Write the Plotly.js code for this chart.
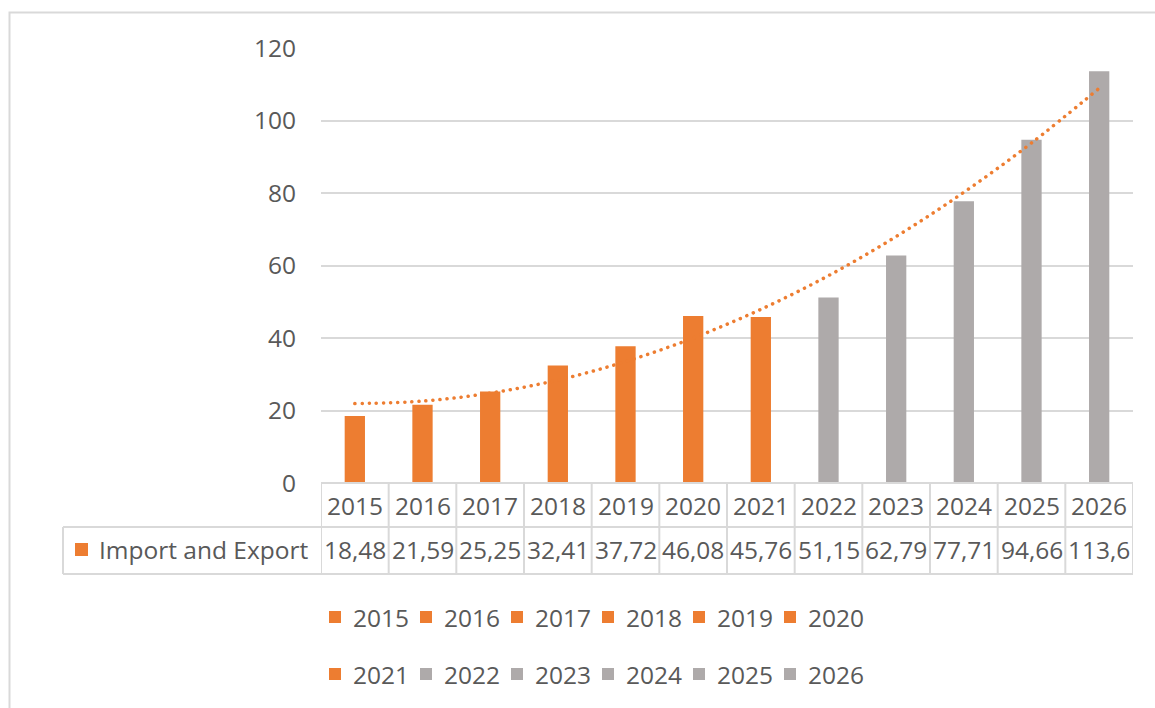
<!DOCTYPE html>
<html>
<head>
<meta charset="utf-8">
<script src="https://cdn.plot.ly/plotly-3.0.1.min.js"></script>
<style>
  html, body { margin: 0; padding: 0; background: #ffffff; }
  #chart { width: 1155px; height: 708px; }
  #chart .scatterlayer .js-line { stroke-linecap: round !important; }
</style>
</head>
<body>
<div id="chart"></div>
<script>
// ---- data ----
const years = ['2015','2016','2017','2018','2019','2020','2021','2022','2023','2024','2025','2026'];
const importExport = [18.48, 21.59, 25.25, 32.41, 37.72, 46.08, 45.76, 51.15, 62.79, 77.71, 94.66, 113.6];
const trendValues = [21.9, 22.6, 24.8, 28.4, 33.5, 40.0, 47.9, 57.2, 68.0, 80.2, 93.8, 108.9];
const seriesName = 'Import and Export';
const yTicks = [0, 20, 40, 60, 80, 100, 120];
const lastActualIndex = 6; // 2015-2021 orange, later gray

// ---- styling ----
const ORANGE = '#ED7D31';
const GRAY = '#AEAAAA';
const GRID = '#D9D9D9';
const TEXT = '#595959';
const FONT = '"Open Sans", "Noto Sans", sans-serif';
const FS = 24.5;

const W = 1155, H = 708;
const M = {l: 321, r: 22, t: 48, b: 225};
const PW = W - M.l - M.r, PH = H - M.t - M.b;
const PX = px => (px - M.l) / PW;          // pixel x -> paper x
const PY = py => (H - M.b - py) / PH;      // pixel y -> paper y
const colorOf = i => (i <= lastActualIndex ? ORANGE : GRAY);

const traces = [];
years.forEach((yr, i) => {
  traces.push({
    type: 'bar',
    x: [yr],
    y: [importExport[i]],
    name: yr,
    width: 0.3,
    marker: {color: colorOf(i), line: {width: 0}},
    showlegend: false,
    hoverinfo: 'x+y'
  });
});
traces.push({
  type: 'scatter',
  mode: 'lines',
  x: years,
  y: trendValues,
  line: {color: ORANGE, width: 3.5, dash: '0.1px,7px', shape: 'spline'},
  showlegend: false,
  hoverinfo: 'skip'
});

const shapes = [];
const annotations = [];
const rowTop = H - M.b;   // 483
const row1Bottom = 527;
const row2Bottom = 574;
const labelLeft = 63;

// outer chart frame
shapes.push({type: 'rect', xref: 'paper', yref: 'paper',
  x0: PX(9.5), x1: PX(1165), y0: PY(720), y1: PY(12.5),
  line: {color: GRID, width: 2}, fillcolor: 'rgba(0,0,0,0)', layer: 'below'});

// table horizontal lines
shapes.push({type: 'line', xref: 'paper', yref: 'paper', x0: 0, x1: 1, y0: PY(rowTop), y1: PY(rowTop), line: {color: GRID, width: 2}});
shapes.push({type: 'line', xref: 'paper', yref: 'paper', x0: PX(labelLeft), x1: 1, y0: PY(row1Bottom), y1: PY(row1Bottom), line: {color: GRID, width: 2}});
shapes.push({type: 'line', xref: 'paper', yref: 'paper', x0: PX(labelLeft), x1: 1, y0: PY(row2Bottom), y1: PY(row2Bottom), line: {color: GRID, width: 2}});
// label cell left border
shapes.push({type: 'line', xref: 'paper', yref: 'paper', x0: PX(labelLeft), x1: PX(labelLeft), y0: PY(row1Bottom), y1: PY(row2Bottom), line: {color: GRID, width: 2}});
// vertical cell borders on category boundaries
for (let k = 0; k <= years.length; k++) {
  shapes.push({type: 'line', xref: 'x', yref: 'paper', x0: k - 0.5, x1: k - 0.5,
    y0: PY(rowTop), y1: PY(row2Bottom), line: {color: GRID, width: 2}});
}
// key square in table
shapes.push({type: 'rect', xref: 'paper', yref: 'paper',
  x0: PX(75), x1: PX(88), y0: PY(556), y1: PY(543),
  line: {width: 0}, fillcolor: ORANGE});

// table texts
years.forEach((yr, i) => {
  annotations.push({xref: 'x', yref: 'paper', x: i, y: PY(505), text: yr, showarrow: false,
    xanchor: 'center', yanchor: 'middle', font: {family: FONT, size: FS, color: TEXT}});
  annotations.push({xref: 'x', yref: 'paper', x: i, y: PY(549), text: String(importExport[i]).replace('.', ','), showarrow: false,
    xanchor: 'center', yanchor: 'middle', font: {family: FONT, size: FS, color: TEXT}});
});
annotations.push({xref: 'paper', yref: 'paper', x: PX(97), y: PY(549), text: seriesName, showarrow: false,
  xanchor: 'left', yanchor: 'middle', font: {family: FONT, size: FS, color: TEXT}});

// legend (two rows of six, like the reference)
const legStartX = 329, legStep = 91, legRowY = [617, 674], legSq = 12;
years.forEach((yr, i) => {
  const row = Math.floor(i / 6), col = i % 6;
  const sx = legStartX + col * legStep, cy = legRowY[row];
  shapes.push({type: 'rect', xref: 'paper', yref: 'paper',
    x0: PX(sx), x1: PX(sx + legSq), y0: PY(cy + legSq / 2), y1: PY(cy - legSq / 2),
    line: {width: 0}, fillcolor: colorOf(i)});
  annotations.push({xref: 'paper', yref: 'paper', x: PX(sx + legSq + 10), y: PY(cy), text: yr, showarrow: false,
    xanchor: 'left', yanchor: 'middle', font: {family: FONT, size: FS, color: TEXT}});
});

const layout = {
  width: W, height: H,
  margin: M,
  paper_bgcolor: '#ffffff', plot_bgcolor: '#ffffff',
  font: {family: FONT, size: FS, color: TEXT},
  barmode: 'overlay',
  showlegend: false,
  xaxis: {type: 'category', range: [-0.5, years.length - 0.5], showticklabels: false,
    showgrid: false, zeroline: false, showline: false, ticks: '', fixedrange: true},
  yaxis: {range: [0, 120], tickvals: yTicks, ticktext: yTicks.map(String),
    showgrid: true, gridcolor: GRID, gridwidth: 2, zeroline: false, showline: false,
    ticks: '', ticklabelstandoff: 24, tickfont: {family: FONT, size: FS, color: TEXT}, fixedrange: true},
  shapes: shapes,
  annotations: annotations
};

Plotly.newPlot('chart', traces, layout, {displayModeBar: false, responsive: false});
</script>
</body>
</html>
